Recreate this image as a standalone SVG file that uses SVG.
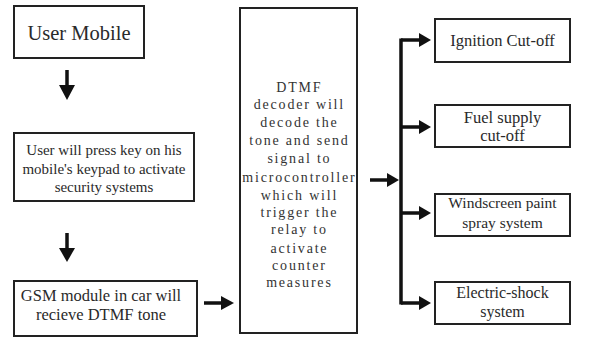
<svg xmlns="http://www.w3.org/2000/svg" width="598" height="339" viewBox="0 0 598 339">
<defs>
<style>
.box{fill:#fff;stroke:#222;stroke-width:2}
.t{font-family:"Liberation Serif","Times New Roman",serif;fill:#2a2a2a;text-anchor:middle}
.c{font-family:"Liberation Serif","Times New Roman",serif;fill:#333;text-anchor:middle;font-size:14px;letter-spacing:1.8px}
.sh{stroke:#111;stroke-width:3.5;fill:none}
.hd{fill:#111}
</style>
</defs>
<rect width="598" height="339" fill="#fff"/>
<g id="user-mobile"><rect class="box" x="14" y="6" width="130" height="52"/><text class="t" x="79" y="40" font-size="20.5">User Mobile</text></g>
<g id="press-key"><rect class="box" x="14" y="133" width="180" height="68"/>
<text class="t" font-size="15" x="104" y="155">User will press key on his</text>
<text class="t" font-size="15" x="104" y="174">mobile's keypad to activate</text>
<text class="t" font-size="15" x="104" y="192">security systems</text></g>
<g id="gsm"><rect class="box" x="14" y="281" width="183" height="55"/>
<text class="t" font-size="16.5" x="101" y="301">GSM module in car will</text>
<text class="t" font-size="16.5" x="101" y="320">recieve DTMF tone</text></g>
<g id="dtmf"><rect class="box" x="240" y="8" width="117" height="325"/>
<text class="c" x="299.4" y="92">DTMF</text>
<text class="c" x="299.4" y="109">decoder will</text>
<text class="c" x="299.4" y="127">decode the</text>
<text class="c" x="299.4" y="145">tone and send</text>
<text class="c" x="299.4" y="163">signal to</text>
<text class="c" x="299.4" y="182">microcontroller</text>
<text class="c" x="299.4" y="200">which will</text>
<text class="c" x="299.4" y="217">trigger the</text>
<text class="c" x="299.4" y="234">relay to</text>
<text class="c" x="299.4" y="253">activate</text>
<text class="c" x="299.4" y="270">counter</text>
<text class="c" x="299.4" y="287">measures</text></g>
<g id="ignition"><rect class="box" x="435" y="19" width="135" height="43"/><text class="t" font-size="16.5" x="502.5" y="46">Ignition Cut-off</text></g>
<g id="fuel"><rect class="box" x="435" y="105" width="135" height="42"/>
<text class="t" font-size="16.5" x="502.5" y="123">Fuel supply</text>
<text class="t" font-size="16.5" x="502.5" y="141">cut-off</text></g>
<g id="windscreen"><rect class="box" x="435" y="194" width="135" height="42"/>
<text class="t" font-size="15.5" x="502.5" y="208">Windscreen paint</text>
<text class="t" font-size="15.5" x="502.5" y="228">spray system</text></g>
<g id="shock"><rect class="box" x="435" y="282" width="135" height="42"/>
<text class="t" font-size="16" x="502.5" y="298">Electric-shock</text>
<text class="t" font-size="16" x="502.5" y="317">system</text></g>
<g id="connectors">
<line class="sh" x1="67" y1="70" x2="67" y2="87"/><polygon class="hd" points="59,85 75,85 67,100"/>
<line class="sh" x1="67" y1="233" x2="67" y2="250"/><polygon class="hd" points="59,248 75,248 67,262"/>
<line class="sh" x1="204" y1="303" x2="223" y2="303"/><polygon class="hd" points="221,296 221,310 234,303"/>
<line class="sh" x1="370" y1="180" x2="389" y2="180"/><polygon class="hd" points="387,173 387,187 399,180"/>
<line class="sh" x1="401" y1="38.5" x2="401" y2="304.5"/>
<line class="sh" x1="401" y1="40" x2="421" y2="40"/><polygon class="hd" points="419,33 419,47 431,40"/>
<line class="sh" x1="401" y1="127" x2="421" y2="127"/><polygon class="hd" points="419,120 419,134 431,127"/>
<line class="sh" x1="401" y1="213" x2="421" y2="213"/><polygon class="hd" points="419,206 419,220 431,213"/>
<line class="sh" x1="401" y1="303" x2="421" y2="303"/><polygon class="hd" points="419,296 419,310 431,303"/>
</g>
</svg>
